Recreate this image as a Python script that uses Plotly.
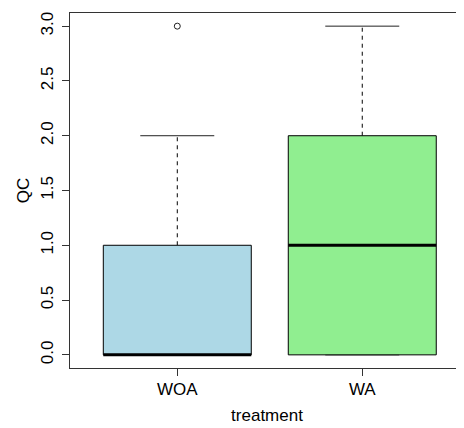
import plotly.graph_objects as go

# Data
categories = ["WOA", "WA"]
q1 = [0.0, 0.0]
medians = [0.0, 1.0]
q3 = [1.0, 2.0]
lower_whisker = [0.0, 0.0]
upper_whisker = [2.0, 3.0]
outliers = [[3.0], []]
fill_colors = ["#ADD8E6", "#90EE90"]

y_ticks = [0.0, 0.5, 1.0, 1.5, 2.0, 2.5, 3.0]
y_tick_labels = ["0.0", "0.5", "1.0", "1.5", "2.0", "2.5", "3.0"]

box_half = 0.4
staple_half = 0.2

fig = go.Figure()
for i, cat in enumerate(categories):
    x = i + 1
    # whiskers (dashed)
    fig.add_trace(go.Scatter(x=[x, x], y=[q3[i], upper_whisker[i]], mode="lines",
                             line=dict(color="black", width=1, dash="4px,4px"),
                             showlegend=False, hoverinfo="skip"))
    fig.add_trace(go.Scatter(x=[x, x], y=[lower_whisker[i], q1[i]], mode="lines",
                             line=dict(color="black", width=1, dash="4px,4px"),
                             showlegend=False, hoverinfo="skip"))
    # staples
    for v in (upper_whisker[i], lower_whisker[i]):
        fig.add_trace(go.Scatter(x=[x - staple_half, x + staple_half], y=[v, v], mode="lines",
                                 line=dict(color="#222", width=1),
                                 showlegend=False, hoverinfo="skip"))
    # box
    fig.add_trace(go.Scatter(x=[x - box_half, x + box_half, x + box_half, x - box_half, x - box_half],
                             y=[q1[i], q1[i], q3[i], q3[i], q1[i]], mode="lines",
                             fill="toself", fillcolor=fill_colors[i],
                             line=dict(color="black", width=1),
                             showlegend=False, hoverinfo="skip"))
    # median
    fig.add_trace(go.Scatter(x=[x - box_half, x + box_half], y=[medians[i], medians[i]], mode="lines",
                             line=dict(color="black", width=3),
                             showlegend=False, hoverinfo="skip"))
    # outliers
    if outliers[i]:
        fig.add_trace(go.Scatter(x=[x] * len(outliers[i]), y=outliers[i], mode="markers",
                                 marker=dict(symbol="circle-open", size=6, color="#222",
                                             line=dict(width=1)),
                                 showlegend=False, hoverinfo="skip"))

font = dict(family="Liberation Sans, Arial, sans-serif", size=17, color="black")

# page body has an 8px default margin; the plot's right frame falls outside the picture
fig.update_layout(
    width=456, height=420,
    margin=dict(l=62, r=0, t=5, b=60),
    paper_bgcolor="white", plot_bgcolor="white",
    font=font,
    xaxis=dict(range=[0.42, 2.55], tickmode="array", tickvals=[1, 2], ticktext=categories,
               ticks="outside", ticklen=7, tickcolor="#333", showgrid=False, zeroline=False,
               showline=True, linecolor="#333", linewidth=1, mirror=True, automargin=False,
               ticklabelstandoff=-1,
               title=dict(text="treatment", standoff=10, font=font), tickfont=font),
    yaxis=dict(range=[-0.12, 3.12], tickmode="array", tickvals=y_ticks, ticktext=y_tick_labels,
               ticks="outside", ticklen=7, tickcolor="#333", showgrid=False, zeroline=False,
               showline=True, linecolor="#333", linewidth=1, mirror=False, tickangle=-90,
               automargin=False, ticklabelstandoff=2,
               title=dict(text="QC", standoff=4, font=font), tickfont=font),
)

fig.write_html("out.html")
